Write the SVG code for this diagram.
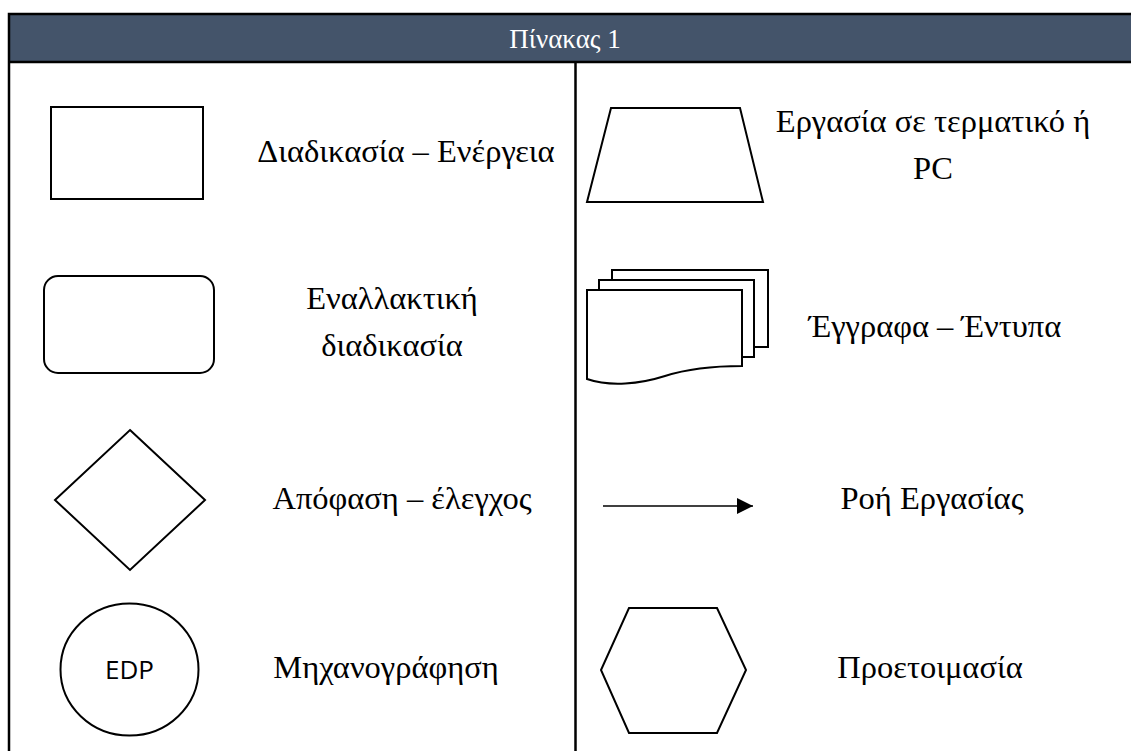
<svg xmlns="http://www.w3.org/2000/svg" width="1131" height="751" viewBox="0 0 1131 751">
<style>
.s{fill:#fff;stroke:#000;stroke-width:2}
.t{font-family:"Liberation Serif","Times New Roman",serif;font-size:32.5px;fill:#000;text-anchor:middle}
.b{stroke:#000;stroke-width:2.5;fill:none}
</style>
<defs>
<marker id="ah" markerWidth="16" markerHeight="16" refX="16" refY="8" orient="auto" markerUnits="userSpaceOnUse">
<path d="M0,0 L16,8 L0,16 Z" fill="#000"/>
</marker>
</defs>
<rect width="1131" height="751" fill="#fff"/>
<g id="table">
<rect x="9" y="14" width="1130" height="48" fill="#44546A"/>
<path class="b" d="M1131,14 H9 V751 M9,62 H1131 M575.5,62 V751"/>
<text x="565" y="48" class="t" style="fill:#fff;font-size:27px">Πίνακας 1</text>
</g>
<g id="process">
<rect class="s" x="51" y="107" width="152" height="92"/>
<text class="t" x="406" y="162">Διαδικασία – Ενέργεια</text>
</g>
<g id="alt-process">
<rect class="s" x="44" y="276" width="170" height="97" rx="14"/>
<text class="t" x="392" y="309">Εναλλακτική</text>
<text class="t" x="392" y="356">διαδικασία</text>
</g>
<g id="decision">
<polygon class="s" points="130,430 205,500 130,570 55,500"/>
<text class="t" x="402" y="509">Απόφαση – έλεγχος</text>
</g>
<g id="edp">
<ellipse class="s" cx="129.5" cy="669.5" rx="69" ry="66"/>
<text x="129.5" y="679" style="font-family:'Open Sans','Noto Sans',sans-serif;font-size:26px;text-anchor:middle">EDP</text>
<text class="t" x="386" y="678">Μηχανογράφηση</text>
</g>
<g id="terminal">
<polygon class="s" points="611,108 740,108 763,202 587,202"/>
<text class="t" x="933" y="132">Εργασία σε τερματικό ή</text>
<text class="t" x="933" y="179">PC</text>
</g>
<g id="documents">
<rect class="s" x="612" y="270" width="156" height="77"/>
<rect class="s" x="599" y="280" width="155" height="77"/>
<path class="s" d="M587,290 H742 V366 C715,366 690,368 665,376 C640,384 610,387 587,379 Z"/>
<text class="t" x="935" y="337">Έγγραφα – Έντυπα</text>
</g>
<g id="connectors">
<line x1="603" y1="506" x2="753" y2="506" stroke="#000" stroke-width="1.5" marker-end="url(#ah)"/>
</g>
<g id="flow-label">
<text class="t" x="932" y="509">Ροή Εργασίας</text>
</g>
<g id="preparation">
<polygon class="s" points="629,608 717,608 746,670 717,733 629,733 601,670"/>
<text class="t" x="930" y="678">Προετοιμασία</text>
</g>
</svg>
